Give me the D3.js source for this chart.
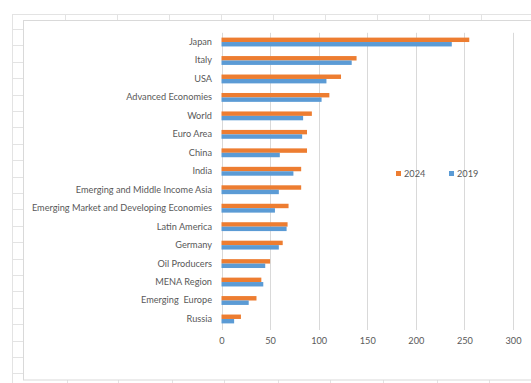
<!DOCTYPE html>
<html>
<head>
<meta charset="utf-8">
<script src="https://cdn.jsdelivr.net/npm/d3@7"></script>
<style>
  html, body { margin: 0; padding: 0; background: #fff; }
  svg { display: block; }
  text { font-family: Lato, "Open Sans", sans-serif; fill: #595959; white-space: pre; }
</style>
</head>
<body>
<svg id="chart" width="531" height="383"></svg>
<script>
// Economies, top to bottom
const categories = [
  "Japan", "Italy", "USA", "Advanced Economies", "World", "Euro Area", "China",
  "India", "Emerging and Middle Income Asia", "Emerging Market and Developing Economies",
  "Latin America", "Germany", "Oil Producers", "MENA Region", "Emerging  Europe", "Russia"
];
// Gross debt, % of GDP
const values2024 = [255, 139, 123, 111, 93, 88, 88, 82, 82, 69, 68, 63, 50, 41, 36, 20];
const values2019 = [237, 134, 108, 103, 84, 83, 60, 74, 59, 55, 67, 59, 45, 43, 28, 13];
const seriesNames = ["2024", "2019"];
const seriesColors = ["#ED7D31", "#5B9BD5"];
const xTicks = [0, 50, 100, 150, 200, 250, 300];

const svg = d3.select("#chart");
const W = 531, H = 383;
const FONT = 9.2;

// Worksheet cells behind the chart object
const sheet = svg.append("g").attr("stroke", "#e3e3e3").attr("stroke-width", 1);
const colTop = [12, 65, 117, 169, 221, 273, 325, 377, 429, 481];
sheet.append("line").attr("x1", 12).attr("x2", W).attr("y1", 14.5).attr("y2", 14.5);
sheet.append("line").attr("x1", 12.5).attr("x2", 12.5).attr("y1", 14).attr("y2", H);
colTop.slice(1).forEach(x => sheet.append("line")
  .attr("x1", x + 0.5).attr("x2", x + 0.5).attr("y1", 14).attr("y2", 20));
for (let y = 29; y < H; y += 16.4) {
  sheet.append("line").attr("x1", 12).attr("x2", 23)
    .attr("y1", Math.round(y) + 0.5).attr("y2", Math.round(y) + 0.5);
}
const colBottom = [67, 118, 172, 224, 278, 330, 383, 437, 489];
colBottom.forEach(x => sheet.append("line")
  .attr("x1", x + 0.5).attr("x2", x + 0.5).attr("y1", 380).attr("y2", H));

// Chart area
svg.append("rect")
  .attr("x", 23.5).attr("y", 20.5).attr("width", W + 10).attr("height", 359.5)
  .attr("fill", "#fff").attr("stroke", "#d9d9d9");

// Scales
const x = d3.scaleLinear().domain([0, 300]).range([221.5, 513]);
const y = d3.scaleBand().domain(categories).range([32.8, 328.2])
  .paddingInner(0.52).paddingOuter(0.26);
const ySub = d3.scaleBand().domain(seriesNames).range([0, y.bandwidth()]);

// Vertical gridlines
svg.append("g").selectAll("line").data(xTicks).join("line")
  .attr("x1", d => Math.round(x(d)) + 0.5).attr("x2", d => Math.round(x(d)) + 0.5)
  .attr("y1", 32.8).attr("y2", 330)
  .attr("stroke", "#d9d9d9").attr("stroke-width", 1);

// Bars
const rows = categories.map((c, i) => ({ c, vals: [values2024[i], values2019[i]] }));
const groups = svg.append("g").selectAll("g").data(rows).join("g")
  .attr("transform", d => `translate(0,${y(d.c)})`);
groups.selectAll("rect").data(d => d.vals.map((v, k) => ({ v, s: seriesNames[k], k })))
  .join("rect")
  .attr("x", x(0))
  .attr("y", d => ySub(d.s))
  .attr("width", d => x(d.v) - x(0))
  .attr("height", ySub.bandwidth())
  .attr("fill", d => seriesColors[d.k]);

// Category axis
const yAxis = svg.append("g").attr("transform", `translate(${x(0) - 9.5},0)`)
  .call(d3.axisLeft(y).tickSize(0).tickPadding(0));
yAxis.select(".domain").remove();
yAxis.selectAll("text").attr("font-size", FONT).attr("fill", "#595959")
  .style("font-family", "Lato, 'Open Sans', sans-serif")
  .style("white-space", "pre");

// Value axis
const xAxis = svg.append("g").attr("transform", "translate(0,337.5)")
  .call(d3.axisBottom(x).tickValues(xTicks).tickSize(0).tickPadding(0));
xAxis.select(".domain").remove();
xAxis.selectAll("text").attr("font-size", FONT).attr("fill", "#595959")
  .attr("dy", "0.71em")
  .style("font-family", "Lato, 'Open Sans', sans-serif");

// Legend
const legend = svg.append("g");
const legendX = [396, 449];
seriesNames.forEach((s, k) => {
  legend.append("rect").attr("x", legendX[k]).attr("y", 171)
    .attr("width", 5).attr("height", 5).attr("fill", seriesColors[k]);
  legend.append("text").attr("x", legendX[k] + 8).attr("y", 173.5)
    .attr("dy", "0.35em").attr("font-size", FONT).text(s);
});
</script>
</body>
</html>
